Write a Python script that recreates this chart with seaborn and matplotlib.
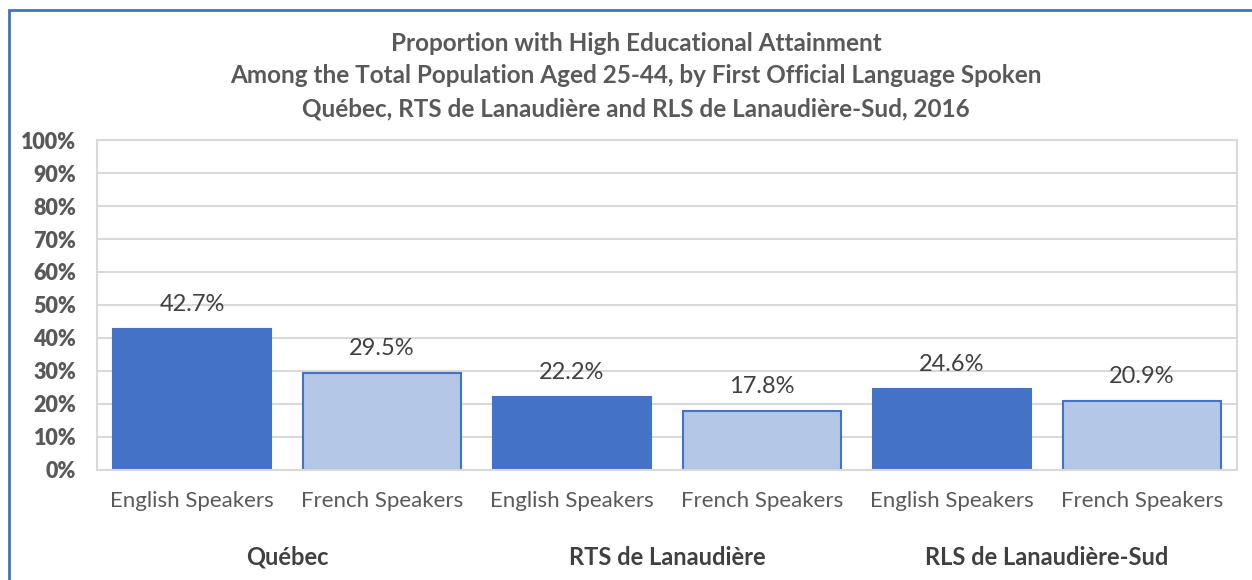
import matplotlib
matplotlib.use("Agg")
import matplotlib.pyplot as plt
from matplotlib.patches import Rectangle
import seaborn as sns
import pandas as pd

regions = ["Québec", "RTS de Lanaudière", "RLS de Lanaudière-Sud"]
languages = ["English Speakers", "French Speakers"]
values = [42.7, 29.5, 22.2, 17.8, 24.6, 20.9]
y_ticks = list(range(0, 101, 10))
title_lines = [
    "Proportion with High Educational Attainment",
    "Among the Total Population Aged 25-44, by First Official Language Spoken",
    "Québec, RTS de Lanaudière and RLS de Lanaudière-Sud, 2016",
]

df = pd.DataFrame({
    "region": [r for r in regions for _ in languages],
    "langue": languages * len(regions),
    "valeur": values,
})
df["slot"] = [f"{r}|{l}" for r, l in zip(df["region"], df["langue"])]

sns.set_theme(style="white")
plt.rcParams["font.family"] = ["Lato", "DejaVu Sans"]

gris = "#595959"
bleu = "#4472C4"
bleu_pale = "#B4C7E7"
grille = "#D9D9D9"

fig = plt.figure(figsize=(12.52, 5.8), dpi=100)
ax = fig.add_axes([0.0775, 0.1897, 0.9105, 0.5689])

couleurs = [bleu if l == languages[0] else bleu_pale for l in df["langue"]]
sns.barplot(data=df, x="slot", y="valeur", hue="slot", palette=couleurs,
            legend=False, width=0.83, saturation=1, edgecolor=bleu,
            linewidth=1.5, ax=ax)

for cont in ax.containers:
    ax.bar_label(cont, fmt="%.1f%%", padding=10, fontsize=17, color="#404040")

ax.set_ylim(0, 100)
ax.set_yticks(y_ticks, labels=[f"{t}%" for t in y_ticks])
ax.set_xticks(range(len(df)), labels=list(df["langue"]))
ax.set_xlabel("")
ax.set_ylabel("")
ax.tick_params(axis="y", length=0, pad=15, labelsize=15.5, labelcolor=gris)
ax.tick_params(axis="x", length=0, pad=15, labelsize=16, labelcolor=gris)
ax.grid(axis="y", color=grille, linewidth=1.5)
ax.set_axisbelow(True)
for s in ax.spines.values():
    s.set_color(grille)
    s.set_linewidth(1.5)

# noms des régions sous chaque paire de barres
for i, r in enumerate(regions):
    ax.text(2 * i + 0.5, -0.264, r, transform=ax.get_xaxis_transform(),
            ha="center", va="center", fontsize=17, fontweight="bold", color="#404040")

fig.text(0.508, 0.869, "\n".join(title_lines), ha="center", va="center",
         fontsize=17.5, fontweight="bold", color=gris, linespacing=1.5)

fig.add_artist(Rectangle((0.007, -0.05), 1.2, 1.033, transform=fig.transFigure,
                         fill=False, edgecolor=bleu, linewidth=2, clip_on=False))

fig.canvas.draw()
for lab in ax.get_yticklabels():
    lab.set_fontweight("heavy")

fig.savefig("out.png", dpi=100)
